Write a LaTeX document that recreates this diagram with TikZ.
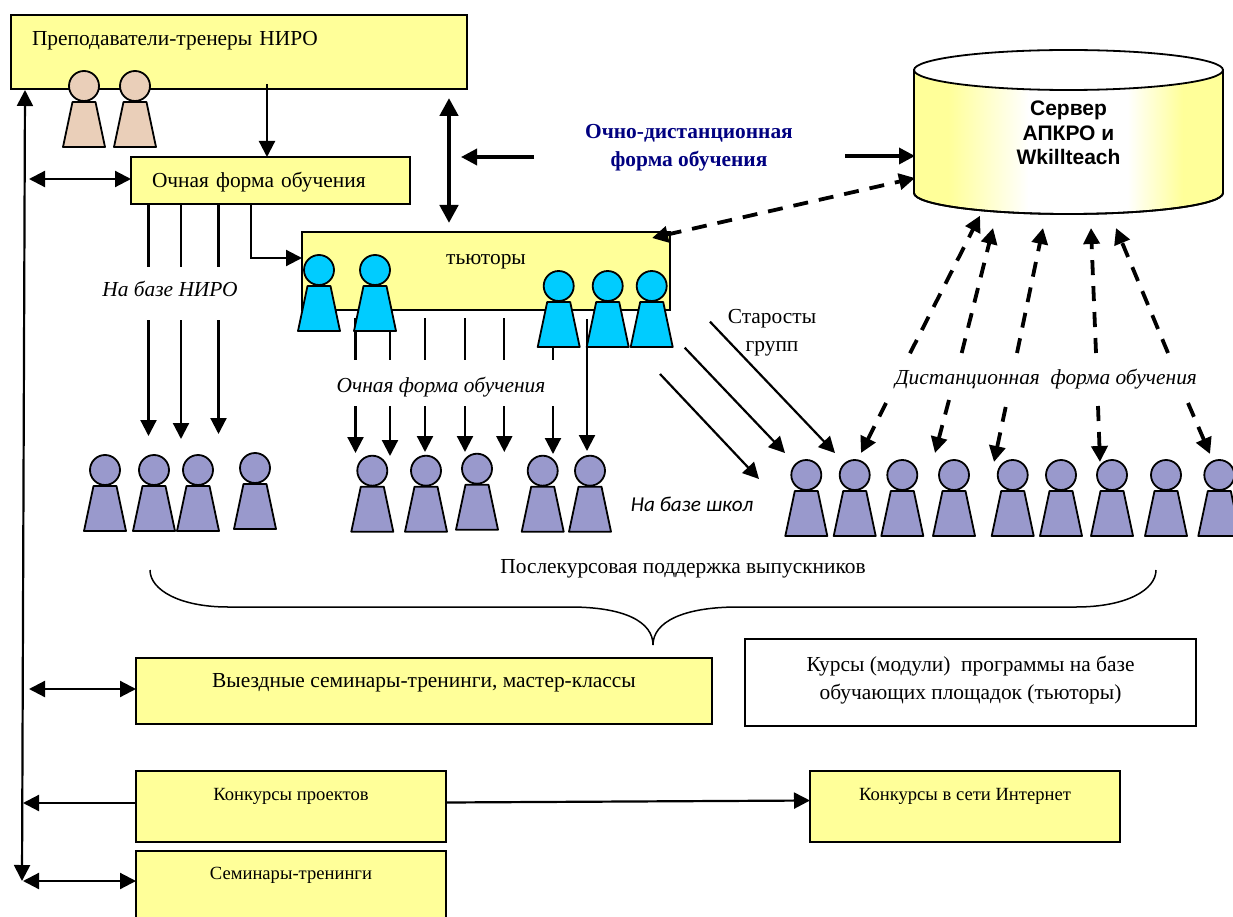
\documentclass[tikz,border=0pt]{standalone}
\usepackage{xcolor}
\usepackage{fontspec}
\setmainfont{Liberation Serif}
\setsansfont{Liberation Sans}
\newfontfamily\schoolfont{Carlito}
\usepackage{tikz}
\usetikzlibrary{arrows.meta}
\usetikzlibrary{shapes,positioning}

\definecolor{boxyellow}{HTML}{FFFF99}
\definecolor{trainer}{HTML}{EACFB9}
\definecolor{tutor}{HTML}{00CCFF}
\definecolor{student}{HTML}{9999CC}
\definecolor{formblue}{HTML}{000080}

\pgfdeclarehorizontalshading{serverfill}{100bp}{
    color(0bp)=(boxyellow); color(30.5bp)=(boxyellow); color(43.5bp)=(white);
    color(59.5bp)=(white); color(68.5bp)=(boxyellow); color(100bp)=(boxyellow)}

\tikzset{
    >={Triangle[length=16pt,width=16pt]},
    size/.style 2 args={minimum width=#1pt,minimum height=#2pt},
    yellowbox/.style={draw,line width=1.8pt,fill=boxyellow,inner sep=0pt,outer sep=0pt,anchor=north west,
        text height=12pt,font=\fontsize{21.4}{26}\selectfont},
    smallbox/.style={yellowbox,font=\fontsize{18.6}{22}\selectfont},
    label text/.style={inner sep=0pt,font=\fontsize{21.4}{28}\selectfont,align=center},
    head/.style={circle,draw,line width=1.8pt,minimum size=30pt,inner sep=0pt},
    body/.style={draw,line width=1.8pt,line join=round},
    thin arrow/.style={line width=2.2pt},
    thick arrow/.style={line width=3.5pt},
    dash arrow/.style={line width=3.8pt,dash pattern=on 15pt off 11pt},
}

\newcommand{\person}[4]{
    \node[head,fill=#4] (#1) at (#2,#3) {};
    \draw[body,fill=#4,shift={(#2,#3)}] (-11.5,16) -- (11.5,16) -- (21,61) -- (-21,61) -- cycle;
}

\begin{document}
\begin{tikzpicture}[x=1pt,y=-1pt]
                \clip (0,0) rectangle (1233,917);

                \node[yellowbox,size={456}{74},text width=414pt,inner xsep=21pt,align=left,text depth=24pt]
                    (niro) at (11,15) {Преподаватели-тренеры НИРО};
                \node[yellowbox,size={279}{47},text width=237pt,inner xsep=21pt,align=left,text height=16pt,text depth=2pt]
                    (ochno) at (131,157) {Очная форма обучения};
                \node[yellowbox,size={368}{78},text depth=26pt]
                    (tutors) at (302,232) {тьюторы};
                \node[yellowbox,size={576}{66},text depth=20pt]
                    (trips) at (136,658) {Выездные семинары-тренинги, мастер-классы};
                \node[yellowbox,fill=white,size={451}{87},align=center,text height=,text depth=10pt,font=\fontsize{21.4}{28}\selectfont]
                    (courses) at (745,639) {Курсы (модули)\ \ программы на базе\\обучающих площадок (тьюторы)};
                \node[smallbox,size={310}{71},text depth=24pt]
                    (contests) at (136,771) {Конкурсы проектов};
                \node[smallbox,size={310}{71},text depth=24pt]
                    (webcontests) at (810,771) {Конкурсы в сети Интернет};
                \node[smallbox,size={310}{88},text depth=44pt]
                    (seminars) at (136,851) {Семинары-тренинги};

                \draw[
                    line width=1.8pt,
                    shading=serverfill
                    ] (914,70) -- (914,193) arc[start angle=180,end angle=360,x radius=154.5,y radius=-21] -- (1223,70) -- cycle;
                \draw[
                    line width=1.8pt
                    ] (914,70) -- (914,193) arc[start angle=180,end angle=360,x radius=154.5,y radius=-21] -- (1223,70);
                \draw[
                    line width=1.8pt,
                    fill=white
                    ] (1068.5,70) ellipse[x radius=154.5,y radius=20];
                \node[align=center,inner sep=0pt,font=\fontsize{21}{24.5}\selectfont\sffamily\bfseries]
                    (server) at (1068.5,133) {Сервер\\АПКРО и\\Wkillteach};

                \node[label text,font=\fontsize{21.4}{28}\selectfont\bfseries,text=formblue]
                    (blended) at (689,148) {Очно-дистанционная\\форма обучения};
                \node[label text,font=\fontsize{21.4}{26}\selectfont\itshape]
                    (niroform) at (170,289) {На базе НИРО};
                \node[label text,font=\fontsize{21.4}{26}\selectfont\itshape]
                    (tutorform) at (441,387) {Очная форма обучения};
                \node[label text]
                    (heads) at (772,333) {Старосты\\групп};
                \node[label text,font=\fontsize{21.2}{26}\selectfont\schoolfont\itshape]
                    (schools) at (692,504) {На базе школ};
                \node[label text]
                    (support) at (683,569) {Послекурсовая поддержка выпускников};
                \node[label text,font=\fontsize{21.4}{26}\selectfont\itshape]
                    (remote) at (1046,379) {Дистанционная\ \ форма обучения};

                \coordinate (niroout) at (267,84);
                \coordinate (ochnofree) at (29,179);
                \coordinate (tripsfree) at (29,689);
                \coordinate (railtop) at (25,90);
                \coordinate (railbottom) at (22,881);
                \coordinate (railcontests) at (23,803);
                \coordinate (railseminars) at (23,881);
                \coordinate (tutorsup) at (449,98);
                \coordinate (tutorsdown) at (449,223);
                \coordinate (blendleft) at (534,157);
                \coordinate (blendleftend) at (461,157);
                \coordinate (blendright) at (845,156);
                \coordinate (blendrightend) at (915,156);
                \coordinate (tutorscorner) at (652,238);
                \coordinate (serverside) at (915,178);
                \coordinate (ochnoelbow) at (251,258);

                \draw[<->,thin arrow] (railtop) -- (railbottom);
                \draw[->,thin arrow] (niroout) -- (niroout |- ochno.north);
                \draw[<->,thin arrow] (ochnofree) -- (ochnofree -| ochno.west);
                \draw[<->,thin arrow] (tripsfree) -- (tripsfree -| trips.west);
                \draw[->,thin arrow] (contests.west |- railcontests) -- (railcontests);
                \draw[->,thin arrow] ([yshift=4pt]contests.east) -- ([yshift=6pt]webcontests.west);
                \draw[<->,thin arrow] (railseminars) -- (railseminars -| seminars.west);
                \draw[->,thin arrow] (ochnoelbow |- ochno.south) -- (ochnoelbow) -- (ochnoelbow -| tutors.west);
                \draw[<->,line width=4.5pt,>={Triangle[length=18pt,width=18pt]}] (tutorsup) -- (tutorsdown);
                \draw[->,thick arrow] (blendleft) -- (blendleftend);
                \draw[->,thick arrow] (blendright) -- (blendrightend);
                \draw[<->,dash arrow] (tutorscorner) -- (serverside);

                \draw[
                    line width=1.5pt
                    ] (150,570) .. controls (150,590) and (180,607) .. (228,607) -- (570,607)
                    .. controls (625,607) and (653,622) .. (653,645)
                    .. controls (653,622) and (683,607) .. (738,607) -- (1076,607)
                    .. controls (1126,607) and (1156,590) .. (1156,570);

                \foreach \lx/\lend in {148.5/436,181/439,218.5/434}{
                    \draw[thin arrow] (\lx,205) -- (\lx,267);
                    \draw[->,thin arrow] (\lx,320) -- (\lx,\lend);
                }

                \foreach \lx/\ltop/\lend in {355.5/318/453,390/318/456,425/318/452,465/318/452,504.3/318/452,553/340/454}{
                    \draw[thin arrow] (\lx,\ltop) -- (\lx,360);
                    \draw[->,thin arrow] (\lx,406) -- (\lx,\lend);
                }

                \person{trainera}{84}{86}{trainer}
                \person{trainerb}{135}{86}{trainer}

                \person{tutora}{319}{270}{tutor}
                \person{tutorb}{375}{270}{tutor}
                \person{tutorc}{558.7}{286}{tutor}
                \person{tutord}{607.7}{286}{tutor}
                \person{tutore}{651.7}{286}{tutor}

                \person{niroa}{105}{470}{student}
                \person{nirob}{154}{470}{student}
                \person{niroc}{198}{470}{student}
                \person{nirod}{255}{468}{student}

                \person{groupa}{372.3}{470.7}{student}
                \person{groupb}{426}{470.7}{student}
                \person{groupc}{477}{468.7}{student}
                \person{groupd}{542.7}{470.7}{student}
                \person{groupe}{590}{470.7}{student}

                \person{schoola}{806.3}{475}{student}
                \person{schoolb}{854.7}{475}{student}
                \person{schoolc}{902.3}{475}{student}
                \person{schoold}{954}{475}{student}
                \person{schoole}{1012.7}{475}{student}
                \person{schoolf}{1061}{475}{student}
                \person{schoolg}{1112}{475}{student}
                \person{schoolh}{1166}{475}{student}
                \person{schooli}{1219.3}{475}{student}

                \coordinate (tutorlong) at (587,319);
                \coordinate (tutorlongend) at (587,451);
                \draw[->,thin arrow] (tutorlong) -- (tutorlongend);

                \coordinate (heada) at (660,374);
                \coordinate (headaend) at (759,479);
                \coordinate (headb) at (684.7,347.7);
                \coordinate (headbend) at (785,453);
                \coordinate (headc) at (710,321.7);
                \coordinate (headcend) at (835,453);
                \draw[->,thin arrow] (heada) -- (headaend);
                \draw[->,thin arrow] (headb) -- (headbend);
                \draw[->,thin arrow] (headc) -- (headcend);

                \coordinate (upa) at (910,353.3);
                \coordinate (upaend) at (980,215.7);
                \coordinate (upb) at (961.7,353);
                \coordinate (upbend) at (993,228);
                \coordinate (upc) at (1017,353);
                \coordinate (upcend) at (1043,228);
                \coordinate (upd) at (1096,353);
                \coordinate (updend) at (1091,228);
                \coordinate (upe) at (1168,353);
                \coordinate (upeend) at (1116,228);
                \draw[->,dash arrow] (upa) -- (upaend);
                \draw[->,dash arrow] (upb) -- (upbend);
                \draw[->,dash arrow] (upc) -- (upcend);
                \draw[->,dash arrow] (upd) -- (updend);
                \draw[->,dash arrow] (upe) -- (upeend);

                \coordinate (downa) at (886,403);
                \coordinate (downaend) at (861,453);
                \coordinate (downb) at (949,400);
                \coordinate (downbend) at (935,453);
                \coordinate (downc) at (1005.7,407);
                \coordinate (downcend) at (994,462);
                \coordinate (downd) at (1098,406);
                \coordinate (downdend) at (1100,462);
                \coordinate (downe) at (1188,403);
                \coordinate (downeend) at (1210,454);
                \draw[->,dash arrow] (downa) -- (downaend);
                \draw[->,dash arrow] (downb) -- (downbend);
                \draw[->,dash arrow] (downc) -- (downcend);
                \draw[->,dash arrow] (downd) -- (downdend);
                \draw[->,dash arrow] (downe) -- (downeend);
\end{tikzpicture}
\end{document}
